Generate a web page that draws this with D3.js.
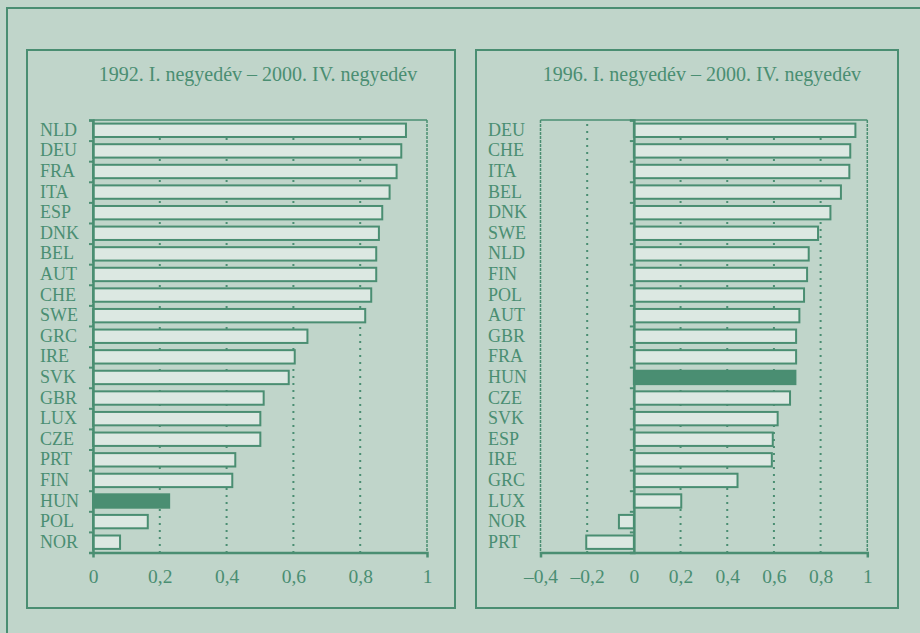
<!DOCTYPE html>
<html lang="hu">
<head>
<meta charset="UTF-8">
<title>Negyedéves korreláció</title>
<script src="https://d3js.org/d3.v7.min.js"></script>
<style>
    html, body { margin: 0; padding: 0; background: #c0d5ca; }
    svg { display: block; }
    text { font-family: "Liberation Serif", "Times New Roman", serif; fill: #4a8e72; }
</style>
</head>
<body>
<script>
    // bal panel
    const leftTitle = "1992. I. negyedév – 2000. IV. negyedév";
    const leftCats = ["NLD", "DEU", "FRA", "ITA", "ESP", "DNK", "BEL", "AUT", "CHE", "SWE", "GRC",
        "IRE", "SVK", "GBR", "LUX", "CZE", "PRT", "FIN", "HUN", "POL", "NOR"];
    const leftVals = [0.937, 0.923, 0.909, 0.888, 0.866, 0.856, 0.848, 0.848, 0.833, 0.815, 0.642,
        0.604, 0.586, 0.511, 0.501, 0.501, 0.426, 0.417, 0.228, 0.164, 0.081];
    const leftTicks = [0, 0.2, 0.4, 0.6, 0.8, 1];

    // jobb panel
    const rightTitle = "1996. I. negyedév – 2000. IV. negyedév";
    const rightCats = ["DEU", "CHE", "ITA", "BEL", "DNK", "SWE", "NLD", "FIN", "POL", "AUT", "GBR",
        "FRA", "HUN", "CZE", "SVK", "ESP", "IRE", "GRC", "LUX", "NOR", "PRT"];
    const rightVals = [0.949, 0.927, 0.923, 0.887, 0.842, 0.789, 0.749, 0.742, 0.729, 0.709, 0.695,
        0.695, 0.692, 0.669, 0.616, 0.595, 0.591, 0.444, 0.203, -0.064, -0.204];
    const rightTicks = [-0.4, -0.2, 0, 0.2, 0.4, 0.6, 0.8, 1];

    const highlight = "HUN";
    const green = "#4a8e72";
    const barFill = "#dce8e2";

    const W = 920, H = 633;
    const svg = d3.select("body").append("svg").attr("width", W).attr("height", H);

    // külső keret (csak a bal és felső éle látszik)
    svg.append("rect")
        .attr("x", 7).attr("y", 8).attr("width", 1000).attr("height", 1000)
        .attr("fill", "none").attr("stroke", green).attr("stroke-width", 2);

    const fmt = d => (d < 0 ? "–" : "") + String(Math.abs(d)).replace(".", ",");

    function drawPanel(cfg) {
        const g = svg.append("g");

        g.append("rect")
            .attr("x", cfg.box[0]).attr("y", cfg.box[1])
            .attr("width", cfg.box[2] - cfg.box[0]).attr("height", cfg.box[3] - cfg.box[1])
            .attr("fill", "none").attr("stroke", green).attr("stroke-width", 2);

        const x = d3.scaleLinear().domain(cfg.domain).range([cfg.plot[0], cfg.plot[2]]);
        const y = d3.scaleBand().domain(cfg.cats).range([cfg.plot[1], cfg.plot[3]])
            .paddingInner(0.35).paddingOuter(0.175);
        const yIdx = d3.scaleLinear().domain([0, cfg.cats.length]).range([cfg.plot[1], cfg.plot[3]]);

        g.append("text")
            .attr("x", (cfg.plot[0] + cfg.plot[2]) / 2 - 2)
            .attr("y", 81)
            .attr("text-anchor", "middle")
            .attr("font-size", 20)
            .text(cfg.title);

        // felső és oldalsó keret
        g.append("line")
            .attr("x1", cfg.plot[0]).attr("x2", cfg.plot[2])
            .attr("y1", cfg.plot[1]).attr("y2", cfg.plot[1])
            .attr("stroke", green).attr("stroke-width", 1.5);
        [cfg.plot[0], cfg.plot[2]].forEach(xx => {
            g.append("line")
                .attr("x1", xx).attr("x2", xx)
                .attr("y1", cfg.plot[1]).attr("y2", cfg.plot[3])
                .attr("stroke", green).attr("stroke-width", 1.5)
                .attr("stroke-dasharray", "3,1");
        });

        // pontozott rácsvonalak
        g.selectAll(".grid")
            .data(cfg.ticks.filter(t => t !== 0 && t !== cfg.domain[0] && t !== cfg.domain[1]))
            .enter().append("line")
            .attr("x1", d => x(d)).attr("x2", d => x(d))
            .attr("y1", cfg.plot[1] + 4).attr("y2", cfg.plot[3])
            .attr("stroke", green).attr("stroke-width", 2)
            .attr("stroke-dasharray", "2,5");

        // oszlopok
        g.selectAll(".bar")
            .data(cfg.cats.map((c, i) => ({ cat: c, val: cfg.vals[i] })))
            .enter().append("rect")
            .attr("x", d => x(Math.min(0, d.val)))
            .attr("y", d => y(d.cat))
            .attr("width", d => Math.abs(x(d.val) - x(0)))
            .attr("height", y.bandwidth())
            .attr("fill", d => d.cat === highlight ? green : barFill)
            .attr("stroke", green).attr("stroke-width", 2);

        // kategória címkék
        g.selectAll(".lbl")
            .data(cfg.cats)
            .enter().append("text")
            .attr("x", cfg.labelX)
            .attr("y", d => y(d) + y.bandwidth() / 2 + 5.5)
            .attr("font-size", 18)
            .text(d => d);

        // y tengely a nullánál, osztásjelek a sávhatárokon
        const yAxis = g.append("g")
            .attr("transform", `translate(${x(0)},0)`)
            .call(d3.axisLeft(yIdx).tickValues(d3.range(cfg.cats.length + 1))
                .tickSize(4).tickFormat(""));
        yAxis.select(".domain").attr("stroke", green).attr("stroke-width", 2.5);
        yAxis.selectAll(".tick line").attr("stroke", green).attr("stroke-width", 2);

        // x tengely
        const xAxis = g.append("g")
            .attr("transform", `translate(0,${cfg.plot[3]})`)
            .call(d3.axisBottom(x).tickValues(cfg.ticks)
                .tickSizeInner(0).tickSizeOuter(5).tickPadding(17).tickFormat(fmt));
        xAxis.select(".domain").attr("stroke", green).attr("stroke-width", 2.5);
        xAxis.selectAll(".tick line").remove();
        xAxis.selectAll(".tick text")
            .attr("font-family", "\"Liberation Serif\", \"Times New Roman\", serif")
            .attr("font-size", 19.5)
            .attr("fill", green);
    }

    drawPanel({
        title: leftTitle, cats: leftCats, vals: leftVals, ticks: leftTicks,
        domain: [0, 1],
        box: [27, 50, 455, 608],
        plot: [93, 120, 427, 552.5],
        labelX: 40
    });

    drawPanel({
        title: rightTitle, cats: rightCats, vals: rightVals, ticks: rightTicks,
        domain: [-0.4, 1],
        box: [476, 50, 898, 608],
        plot: [540.5, 120, 867.3, 552.5],
        labelX: 488
    });
</script>
</body>
</html>
